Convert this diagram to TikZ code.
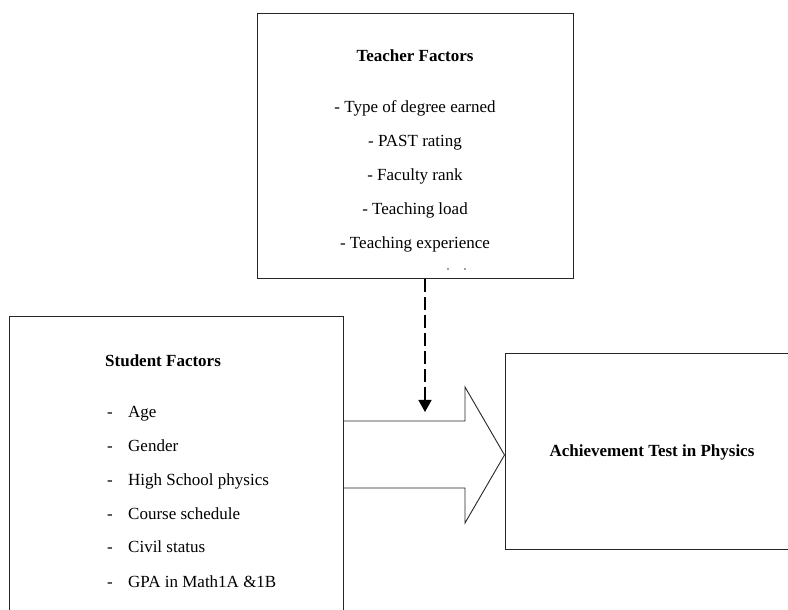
\documentclass[tikz,border=0pt]{standalone}
\usepackage{fontspec}
\setmainfont{Liberation Serif}
\usetikzlibrary{arrows.meta}
\begin{document}
\begin{tikzpicture}[x=1pt,y=1pt,
  box/.style={draw=black!85, line width=1pt, rectangle, inner sep=0pt},
  txt/.style={font=\fontsize{17}{20}\selectfont, anchor=base, inner sep=0pt},
  ttl/.style={font=\fontsize{17}{20}\selectfont\bfseries, anchor=base, inner sep=0pt},
  lft/.style={font=\fontsize{17}{20}\selectfont, anchor=base west, inner sep=0pt},
  lttl/.style={font=\fontsize{17}{20}\selectfont\bfseries, anchor=base west, inner sep=0pt},
  dasharrow/.style={line width=1.4pt, dash pattern=on 13pt off 5pt, -{Triangle[length=12pt,width=13pt]}},
  blockarrow/.style={draw=black!85, line width=0.9pt}
]
\useasboundingbox (0,0) rectangle (788,610);
\clip (0,0) rectangle (788,610);
\fill[white] (0,0) rectangle (788,610);

% Teacher box
\node[box, minimum width=316pt, minimum height=265pt] (teacher) at (415,463.5) {};
\node[ttl] (tt) at (415,548) {Teacher Factors};
\node[txt] (t1) at (415,497) {- Type of degree earned};
\node[txt] (t2) at (415,463) {- PAST rating};
\node[txt] (t3) at (415,429) {- Faculty rank};
\node[txt] (t4) at (415,395) {- Teaching load};
\node[txt] (t5) at (415,361) {- Teaching experience};
\fill[black!75] (448,341) circle (0.9pt) (465,341) circle (0.9pt);

% Student box (extends below the page)
\node[box, minimum width=334pt, minimum height=308pt] (student) at (176,139) {};
\node[lttl] (st) at (105,243) {Student Factors};
\node[lft] (d1) at (107,192) {-};
\node[lft] (s1) at (128,192) {Age};
\node[lft] (d2) at (107,158) {-};
\node[lft] (s2) at (128,158) {Gender};
\node[lft] (d3) at (107,124) {-};
\node[lft] (s3) at (128,124) {High School physics};
\node[lft] (d4) at (107,90) {-};
\node[lft] (s4) at (128,90) {Course schedule};
\node[lft] (d5) at (107,57) {-};
\node[lft] (s5) at (128,57) {Civil status};
\node[lft] (d6) at (107,22) {-};
\node[lft] (s6) at (128,22) {GPA in Math1A \&1B};

% Achievement box (extends past right edge)
\node[box, minimum width=295pt, minimum height=196pt] (ach) at (652.5,158) {};
\node[ttl] (at) at (652,153) {Achievement Test in Physics};

% Block arrow from student box to achievement box
\draw[blockarrow] (student.east |- 0,189) -- (465,189) -- (465,223) -- (ach.west |- 0,155) -- (465,87) -- (465,122) -- (student.east |- 0,122);

% Dashed arrow
\coordinate (dtip) at (425,198);
\draw[dasharrow] (teacher.south -| dtip) -- (dtip);
\end{tikzpicture}
\end{document}
